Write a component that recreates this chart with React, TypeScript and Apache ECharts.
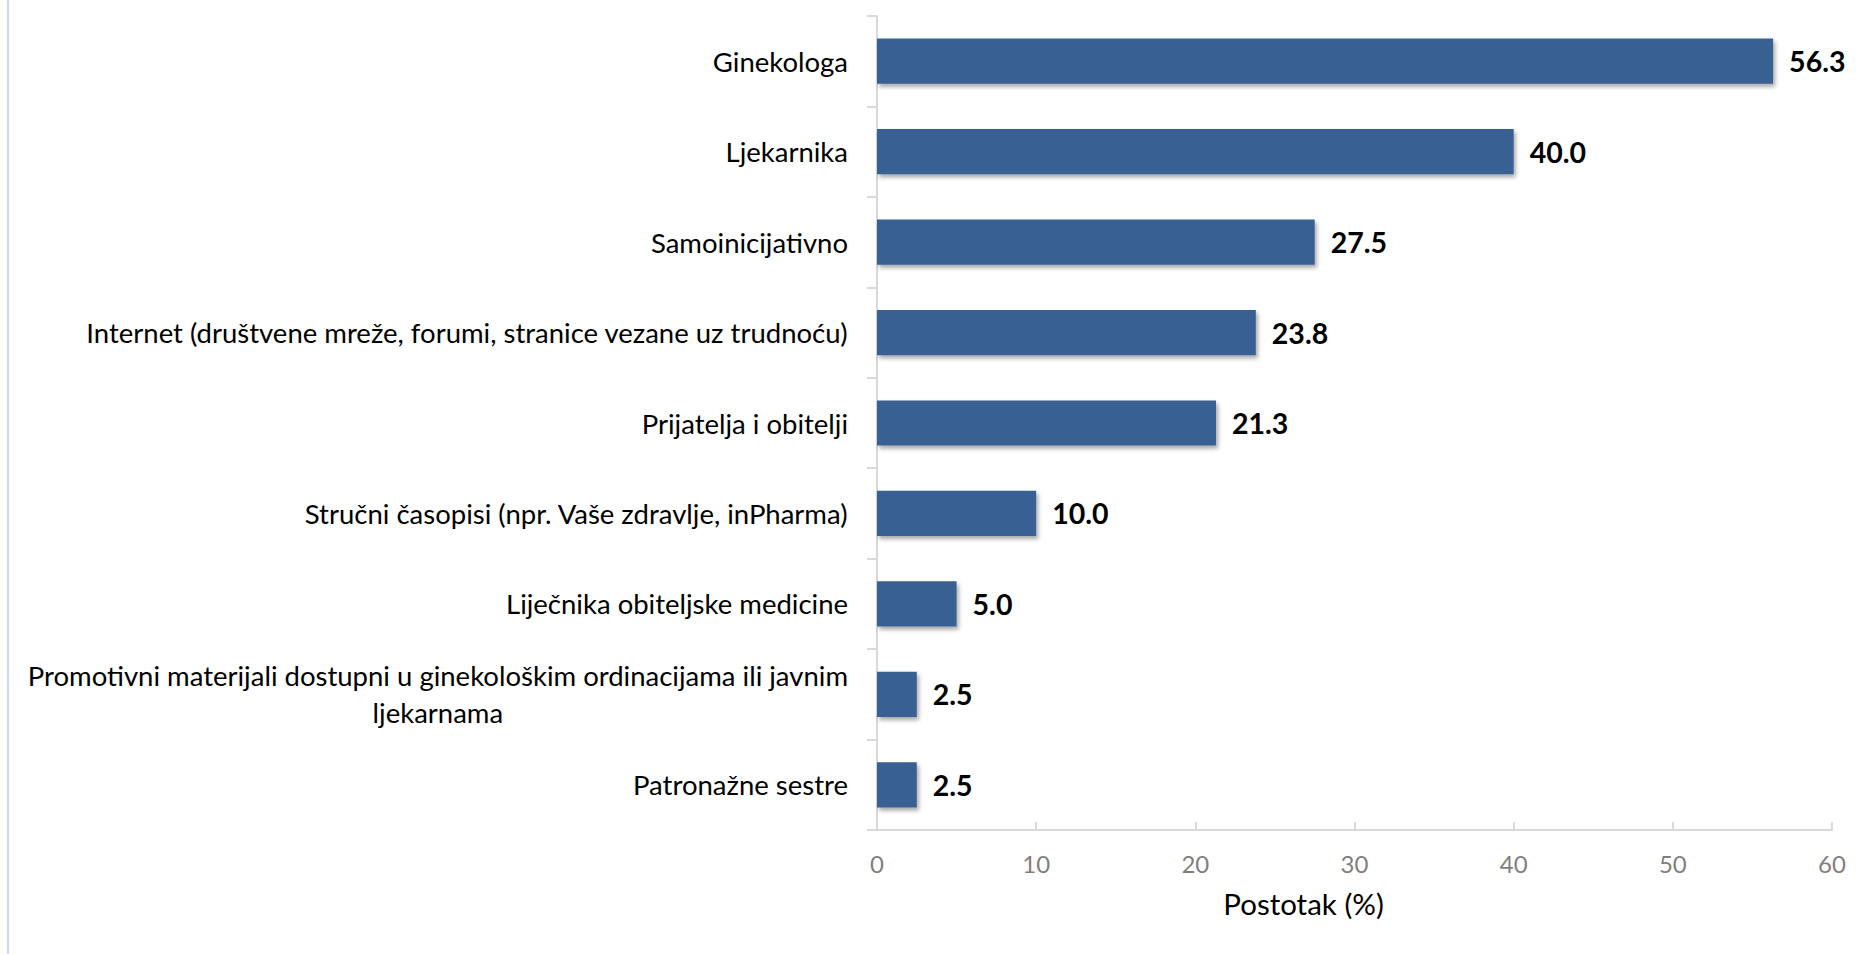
import React, { useEffect, useRef } from "react";
import * as echarts from "echarts";

const categories: string[] = [
  "Ginekologa",
  "Ljekarnika",
  "Samoinicijativno",
  "Internet (društvene mreže, forumi, stranice vezane uz trudnoću)",
  "Prijatelja i obitelji",
  "Stručni časopisi (npr. Vaše zdravlje, inPharma)",
  "Liječnika obiteljske medicine",
  "Promotivni materijali dostupni u ginekološkim ordinacijama ili javnim\nljekarnama",
  "Patronažne sestre",
];

const values: number[] = [56.3, 40.0, 27.5, 23.8, 21.3, 10.0, 5.0, 2.5, 2.5];

const xTicks = { min: 0, max: 60, interval: 10 };
const axisTitle = "Postotak (%)";

const FONT = "Lato, 'Open Sans', sans-serif";

export default function App() {
  const ref = useRef<HTMLDivElement>(null);

  useEffect(() => {
    if (!ref.current) return;
    const chart = echarts.init(ref.current, undefined, { renderer: "svg" });
    chart.setOption({
      animation: false,
      backgroundColor: "#ffffff",
      textStyle: { fontFamily: FONT },
      graphic: [
        {
          type: "rect",
          shape: { x: 7, y: 0, width: 2, height: 954 },
          style: { fill: "#c6d9f1" },
          silent: true,
        },
      ],
      grid: { left: 877, right: 26, top: 16, bottom: 124, containLabel: false },
      xAxis: {
        type: "value",
        min: xTicks.min,
        max: xTicks.max,
        interval: xTicks.interval,
        name: axisTitle,
        nameLocation: "middle",
        nameGap: 58,
        nameTextStyle: {
          color: "#000000",
          fontSize: 29.5,
          fontFamily: FONT,
          align: "center",
          padding: [0, 102, 0, 0],
        },
        axisLine: { show: true, lineStyle: { color: "#d9d9d9", width: 2 } },
        axisTick: { show: true, inside: true, length: 8, lineStyle: { color: "#d9d9d9", width: 2 } },
        splitLine: { show: false },
        axisLabel: { color: "#7f7f7f", fontSize: 24, margin: 21, fontFamily: FONT },
      },
      yAxis: {
        type: "category",
        data: categories,
        inverse: true,
        axisLine: { show: true, lineStyle: { color: "#d9d9d9", width: 2 } },
        axisTick: { show: true, length: 10, lineStyle: { color: "#d9d9d9", width: 2 } },
        axisLabel: {
          margin: 29,
          color: "#000000",
          fontSize: 27.5,
          fontFamily: FONT,
          lineHeight: 37,
          formatter: (v: string) =>
            v
              .split("\n")
              .map((l) => `{c|${l}}`)
              .join("\n"),
          rich: {
            c: { align: "center", fontSize: 27.5, lineHeight: 37, color: "#000000", fontFamily: FONT },
          },
        },
      },
      series: [
        {
          type: "bar",
          data: values,
          barCategoryGap: "50%",
          itemStyle: {
            color: "#376092",
            shadowBlur: 4,
            shadowOffsetX: 2,
            shadowOffsetY: 3,
            shadowColor: "rgba(0,0,0,0.35)",
          },
          label: {
            show: true,
            position: "right",
            distance: 16,
            color: "#000000",
            fontWeight: "bold",
            fontSize: 28.5,
            fontFamily: FONT,
            formatter: (p: any) => Number(p.value).toFixed(1),
          },
        },
      ],
    });
    return () => chart.dispose();
  }, []);

  return (
    <div
      ref={ref}
      style={{ position: "fixed", left: 0, top: 0, width: 1858, height: 954 }}
    />
  );
}
